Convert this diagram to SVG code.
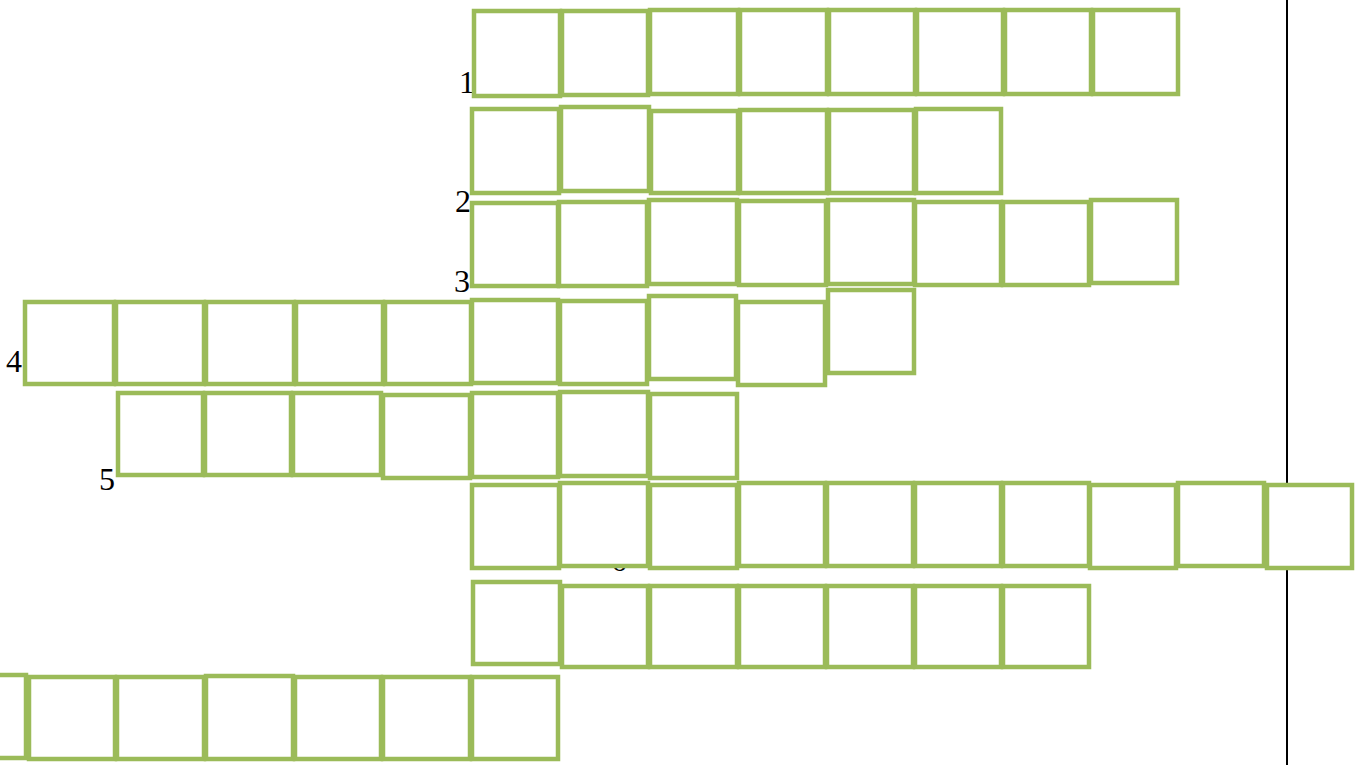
<svg xmlns="http://www.w3.org/2000/svg" width="1355" height="765" viewBox="0 0 1355 765">
<style>
.c{fill:#fff;stroke:#9BBB59;stroke-width:4.5}
.n{font-family:"Liberation Serif",serif;font-size:32px;fill:#000}
</style>
<rect width="1355" height="765" fill="#fff"/>
<line x1="1287" y1="0" x2="1287" y2="765" stroke="#000" stroke-width="2"/>
<g id="labels">
<text class="n" x="459" y="93">1</text>
<text class="n" x="455" y="212">2</text>
<text class="n" x="454" y="292">3</text>
<text class="n" x="6" y="372">4</text>
<text class="n" x="99" y="490">5</text>
<text class="n" x="611" y="571">6</text>
</g>
<g id="row1">
<rect class="c" x="474" y="11" width="86" height="85"/>
<rect class="c" x="562" y="11" width="86" height="84"/>
<rect class="c" x="650" y="10" width="88" height="84"/>
<rect class="c" x="740" y="10" width="87" height="84"/>
<rect class="c" x="829" y="10" width="86" height="84"/>
<rect class="c" x="917" y="10" width="86" height="84"/>
<rect class="c" x="1005" y="10" width="86" height="84"/>
<rect class="c" x="1093" y="10" width="85" height="84"/>
</g>
<g id="row2">
<rect class="c" x="472" y="109" width="87" height="84"/>
<rect class="c" x="561" y="107" width="88" height="84"/>
<rect class="c" x="651" y="111" width="87" height="82"/>
<rect class="c" x="740" y="110" width="87" height="83"/>
<rect class="c" x="829" y="110" width="85" height="83"/>
<rect class="c" x="916" y="109" width="85" height="84"/>
</g>
<g id="row3">
<rect class="c" x="472" y="203" width="86" height="83"/>
<rect class="c" x="559" y="202" width="88" height="84"/>
<rect class="c" x="649" y="200" width="88" height="84"/>
<rect class="c" x="739" y="201" width="87" height="84"/>
<rect class="c" x="828" y="200" width="86" height="84"/>
<rect class="c" x="915" y="202" width="86" height="83"/>
<rect class="c" x="1003" y="202" width="86" height="83"/>
<rect class="c" x="1091" y="200" width="86" height="83"/>
</g>
<g id="row4">
<rect class="c" x="25" y="302" width="89" height="82"/>
<rect class="c" x="116" y="302" width="88" height="82"/>
<rect class="c" x="206" y="302" width="88" height="82"/>
<rect class="c" x="296" y="302" width="87" height="82"/>
<rect class="c" x="385" y="302" width="86" height="82"/>
<rect class="c" x="472" y="300" width="86" height="83"/>
<rect class="c" x="560" y="301" width="87" height="83"/>
<rect class="c" x="649" y="296" width="87" height="83"/>
<rect class="c" x="738" y="302" width="87" height="83"/>
<rect class="c" x="828" y="290" width="86" height="83"/>
</g>
<g id="row5">
<rect class="c" x="118" y="393" width="85" height="82"/>
<rect class="c" x="205" y="393" width="86" height="82"/>
<rect class="c" x="293" y="393" width="88" height="82"/>
<rect class="c" x="383" y="395" width="87" height="83"/>
<rect class="c" x="472" y="393" width="86" height="84"/>
<rect class="c" x="560" y="392" width="88" height="84"/>
<rect class="c" x="650" y="394" width="87" height="84"/>
</g>
<g id="row6">
<rect class="c" x="472" y="485" width="87" height="83"/>
<rect class="c" x="560" y="483" width="88" height="83"/>
<rect class="c" x="650" y="485" width="87" height="83"/>
<rect class="c" x="739" y="483" width="86" height="83"/>
<rect class="c" x="827" y="483" width="86" height="83"/>
<rect class="c" x="915" y="483" width="86" height="83"/>
<rect class="c" x="1003" y="483" width="86" height="83"/>
<rect class="c" x="1090" y="485" width="86" height="83"/>
<rect class="c" x="1178" y="483" width="86" height="83"/>
<rect class="c" x="1267" y="485" width="85" height="83"/>
</g>
<g id="row7">
<rect class="c" x="473" y="582" width="87" height="82"/>
<rect class="c" x="562" y="586" width="86" height="81"/>
<rect class="c" x="650" y="586" width="87" height="81"/>
<rect class="c" x="739" y="586" width="86" height="81"/>
<rect class="c" x="827" y="586" width="86" height="81"/>
<rect class="c" x="915" y="586" width="86" height="81"/>
<rect class="c" x="1003" y="586" width="86" height="81"/>
</g>
<g id="row8">
<rect class="c" x="-60" y="675" width="86" height="83"/>
<rect class="c" x="29" y="677" width="86" height="82"/>
<rect class="c" x="117" y="677" width="87" height="82"/>
<rect class="c" x="206" y="676" width="87" height="83"/>
<rect class="c" x="295" y="677" width="86" height="82"/>
<rect class="c" x="383" y="677" width="87" height="82"/>
<rect class="c" x="472" y="677" width="86" height="82"/>
</g>
</svg>
